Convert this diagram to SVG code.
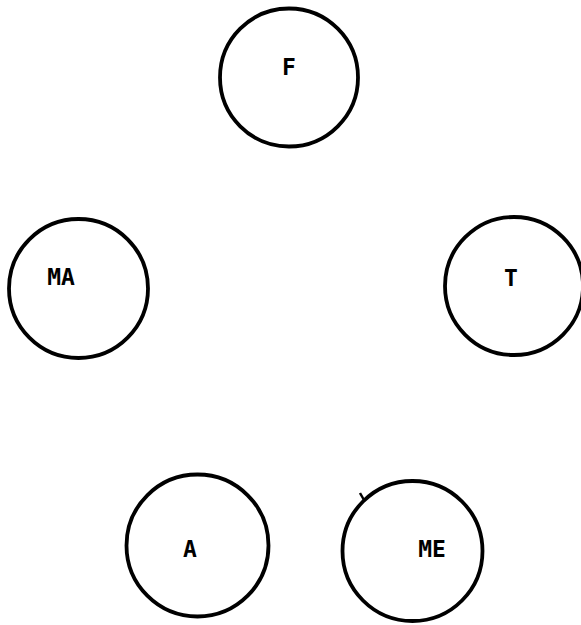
<svg xmlns="http://www.w3.org/2000/svg" width="581" height="625" viewBox="0 0 581 625">
<style>
.n{fill:none;stroke:#000;stroke-width:3.8}
.t{font-family:"DejaVu Sans Mono","Liberation Mono",monospace;font-weight:bold;font-size:23px;fill:#000;text-anchor:middle}
</style>
<rect width="581" height="625" fill="#fff"/>
<g id="connectors"></g>
<g id="F"><circle class="n" cx="289" cy="77.5" r="69"/><text class="t" x="289" y="75">F</text></g>
<g id="MA"><circle class="n" cx="78.5" cy="288.5" r="69.5"/><text class="t" x="61" y="285">MA</text></g>
<g id="T"><circle class="n" cx="514" cy="286" r="69"/><text class="t" x="511" y="286">T</text></g>
<g id="A"><circle class="n" cx="197.5" cy="545.5" r="71"/><text class="t" x="190" y="557">A</text></g>
<g id="ME"><circle class="n" cx="412.5" cy="551" r="70"/><path d="M360 493 L364 500" stroke="#000" stroke-width="2.5" fill="none"/><text class="t" x="432" y="557">ME</text></g>
</svg>
